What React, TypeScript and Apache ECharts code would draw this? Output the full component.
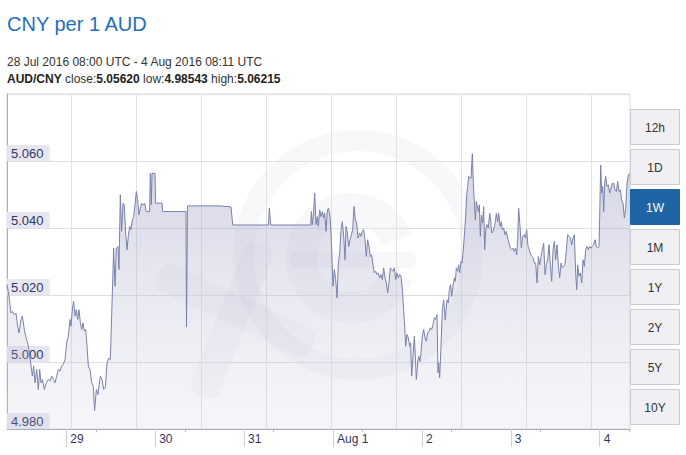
import React, { useEffect, useRef } from 'react';
import * as echarts from 'echarts';

// Time axis: hours since 28 Jul 2016 00:00 UTC
const hoursSinceJul28 = [
  8.0, 8.54, 9.08, 9.44, 9.98, 10.43, 10.88, 11.24, 11.78, 12.14, 12.68, 13.04, 13.58, 13.94, 14.39, 14.84,
  15.2, 15.56, 16.01, 16.46, 16.82, 17.18, 17.54, 18.08, 18.62, 19.16, 19.61, 20.06, 20.51, 20.96, 21.41,
  21.86, 22.31, 22.76, 23.21, 23.66, 24.11, 24.56, 25.01, 25.28, 25.73, 26.0, 26.36, 26.72, 27.08, 27.44,
  27.8, 28.16, 28.52, 28.88, 29.24, 29.6, 29.96, 30.41, 30.86, 31.3, 31.65,
  32.12, 32.57, 33.19, 33.65, 34.1, 34.54, 35.0, 35.45, 35.9, 36.8, 37.16, 37.51, 37.97, 38.23, 38.59,
  38.95, 39.31, 39.67, 40.03, 40.39, 40.75, 41.11, 41.47, 41.83, 42.19, 42.55, 42.91, 43.27, 43.63, 43.99,
  44.35, 44.71, 45.16, 45.61, 46.51, 46.69, 46.96, 47.14, 47.95, 48.13, 49.84, 50.02, 56.32, 56.46, 56.73,
  65.31, 68.47, 68.93, 78.6, 78.81, 79.19, 90.0,
  90.16, 90.43, 90.79, 91.06, 91.42, 91.78, 92.05, 92.41, 92.77, 93.13, 93.49, 93.76, 94.12, 94.48, 94.84,
  95.2, 95.47, 96.01, 96.37, 96.73, 97.09, 97.45, 97.81, 98.17, 98.53, 98.89, 99.25, 99.52, 99.88, 100.24,
  100.6, 100.96, 101.32, 101.68, 102.04, 102.4, 102.76,
  103.2, 103.56, 103.92, 104.28, 104.64, 105.0, 105.36, 105.72, 106.08, 106.44, 106.8, 107.16, 107.52,
  107.88, 108.24, 108.6, 108.96, 109.32, 109.68, 110.04, 110.4, 110.76, 111.12, 111.48, 111.84, 112.2,
  112.56, 112.92, 113.28, 113.64, 114.0, 114.36, 114.72, 115.08, 115.35, 115.62, 115.98, 116.34, 116.7,
  116.97, 117.24, 117.6, 117.96, 118.23, 118.5, 118.86, 119.13, 119.49, 119.76, 120.12, 120.48, 120.84,
  121.2, 121.56, 121.92, 122.28, 122.64, 123.0, 123.36, 123.72, 124.08, 124.35, 124.53, 124.8, 125.16,
  125.52, 125.88, 126.3,
  126.78, 127.14, 127.41, 127.77, 128.04, 128.4, 128.76, 129.03, 129.3, 129.66, 129.93, 130.2, 130.56,
  130.83, 131.1, 131.46, 131.82, 132.09, 132.36, 132.63, 132.99, 133.26, 133.62, 133.89, 134.16, 134.43,
  134.7, 134.97, 135.24, 135.51, 135.78, 136.05, 136.41, 136.68, 136.95, 137.22, 137.58, 137.94, 138.3,
  138.57, 138.84, 139.2, 139.56, 139.83, 140.1, 140.46, 140.73, 141.09, 141.45, 141.72, 142.08, 142.44,
  142.8, 143.16, 143.52, 143.88, 144.24, 144.6, 144.96, 145.32, 145.59, 145.86, 146.13, 146.49, 146.85,
  147.21, 147.57, 147.93, 148.29, 148.65, 149.01, 149.37, 149.73, 150.09, 150.36,
  150.72, 151.08, 151.44, 151.8, 152.16, 152.52, 152.88, 153.24, 153.6, 153.96, 154.32, 154.68, 155.04,
  155.4, 155.76, 156.12, 156.48, 156.84, 157.2, 157.56, 157.92, 158.28, 158.64, 159.0, 159.36, 159.72,
  160.08, 160.44, 160.8, 161.16, 161.52, 161.79, 162.06, 162.42, 162.78, 163.14, 163.5, 163.86, 164.22,
  164.58, 164.94, 165.3, 165.66, 166.02, 166.38, 166.74, 167.1, 167.46, 167.82, 168.0, 168.27, 168.54,
  168.81, 169.08, 169.35, 169.62, 169.98, 170.34, 170.7, 171.06, 171.42, 171.78, 172.14, 172.5, 172.86,
  173.22, 173.58, 173.94, 174.3, 174.66, 175.02, 175.38, 175.74, 176.18,
];

const rateValues = [
  5.0231, 5.0196, 5.0146, 5.0151, 5.0141, 5.0146, 5.0107, 5.0087, 5.0127, 5.0137, 5.0097, 5.0077, 5.0057, 5.0037, 4.9997, 4.9958,
  4.9988, 4.9938, 4.9978, 4.9918, 4.9978, 4.9938, 4.9948, 4.9918, 4.9938, 4.9948, 4.9943, 4.9958, 4.9948, 4.9938, 4.9958,
  4.9978, 4.9973, 4.9988, 4.9993, 5.0007, 5.0057, 5.0077, 5.0127, 5.0107, 5.0166, 5.0181, 5.0137, 5.0156, 5.0127, 5.0156,
  5.0117, 5.0097, 5.0117, 5.0092, 5.0097, 5.0047, 4.9988, 4.9978, 4.9938, 4.9928, 4.9855,
  4.9918, 4.9903, 4.9958, 4.9948, 4.9918, 4.9923, 4.9997, 5.0012, 5.0007, 5.034, 5.0226, 5.034, 5.0345, 5.0276, 5.0499,
  5.039, 5.0474, 5.0469, 5.0385, 5.0335, 5.0375, 5.0405, 5.0395, 5.0424, 5.0434, 5.0469, 5.0509, 5.0484, 5.0439, 5.0459,
  5.0474, 5.0469, 5.0474, 5.0449, 5.0449, 5.0563, 5.047, 5.0563, 5.0563, 5.0474, 5.0474, 5.0449, 5.0449, 5.0105, 5.0466,
  5.0466, 5.0463, 5.0409, 5.0409, 5.0459, 5.0409, 5.0409,
  5.0449, 5.041, 5.0449, 5.0504, 5.041, 5.0434, 5.0405, 5.0454, 5.0434, 5.0449, 5.043, 5.0444, 5.039, 5.0454, 5.0459,
  5.0434, 5.0385, 5.0226, 5.0276, 5.0246, 5.0191, 5.0295, 5.0325, 5.0395, 5.0419, 5.0375, 5.0305, 5.0405, 5.0385, 5.0345,
  5.0365, 5.038, 5.0395, 5.0464, 5.0424, 5.0415, 5.037,
  5.0385, 5.0375, 5.039, 5.0395, 5.0365, 5.0315, 5.0365, 5.0345, 5.0315, 5.032, 5.029, 5.0266, 5.0271,
  5.0261, 5.0266, 5.0251, 5.0261, 5.0246, 5.0281, 5.0251, 5.0236, 5.0206, 5.0236, 5.0281, 5.0276, 5.0271,
  5.0281, 5.0246, 5.0266, 5.0251, 5.0261, 5.0256, 5.0216, 5.0156, 5.0107, 5.0047, 5.0082, 5.0072, 5.0047,
  5.0057, 4.9958, 5.0017, 5.0077, 5.0017, 4.9948, 4.9997, 5.0017, 5.0002, 5.0027, 5.0077, 5.0097, 5.0072,
  5.0062, 5.0087, 5.0092, 5.0102, 5.0097, 5.0112, 5.0132, 5.0127, 5.0141, 4.9968, 4.9997, 4.9953, 5.0047,
  5.0156, 5.0186, 5.0126,
  5.0186, 5.0176, 5.0216, 5.0231, 5.0196, 5.0226, 5.0251, 5.0241, 5.0281, 5.0271, 5.029, 5.0266, 5.03,
  5.0295, 5.0325, 5.0375, 5.0434, 5.0499, 5.0524, 5.0554, 5.0549, 5.0549, 5.0622, 5.0534, 5.0479, 5.0424,
  5.0479, 5.0464, 5.0449, 5.0469, 5.0375, 5.0439, 5.0415, 5.0464, 5.0335, 5.0395, 5.041, 5.04, 5.0444,
  5.0424, 5.0385, 5.039, 5.0405, 5.0419, 5.0444, 5.0419, 5.0444, 5.0405, 5.0419, 5.0395, 5.04, 5.038,
  5.039, 5.037, 5.0355, 5.034, 5.0335, 5.034, 5.033, 5.034, 5.032, 5.0365, 5.0459, 5.0405, 5.034,
  5.0375, 5.038, 5.037, 5.0395, 5.0345, 5.0335, 5.032, 5.0315, 5.031, 5.0295,
  5.0295, 5.0236, 5.0315, 5.029, 5.0315, 5.0335, 5.0355, 5.0261, 5.029, 5.0305, 5.035, 5.029, 5.0241,
  5.0335, 5.036, 5.0305, 5.035, 5.029, 5.0251, 5.0295, 5.0281, 5.0285, 5.029, 5.0335, 5.038, 5.0375,
  5.037, 5.035, 5.037, 5.038, 5.0266, 5.0216, 5.029, 5.0256, 5.0266, 5.0236, 5.0305, 5.0285, 5.0335,
  5.0345, 5.0335, 5.0345, 5.034, 5.0345, 5.035, 5.0365, 5.0345, 5.034, 5.0345, 5.0434, 5.0588, 5.0504,
  5.0524, 5.0449, 5.0534, 5.0554, 5.0524, 5.0529, 5.0504, 5.0519, 5.0534, 5.0534, 5.0514, 5.0509, 5.0539,
  5.0509, 5.0514, 5.0484, 5.0474, 5.043, 5.0459, 5.0534, 5.0559, 5.0562,
];

const dayTickHours = [24, 48, 72, 96, 120, 144, 168];
const dayTickLabels = ['29', '30', '31', 'Aug 1', '2', '3', '4'];
const eightAmHours = [32, 56, 80, 104, 128, 152, 176];
const rangeStartHour = 8;
const rangeEndHour = 176.18;
const yMin = 4.98;
const yMax = 5.08;
const yInterval = 0.02;
const rangeButtons = ['12h', '1D', '1W', '1M', '1Y', '2Y', '5Y', '10Y'];
const activeButton = '1W';
const titleText = 'CNY per 1 AUD';
const periodText = '28 Jul 2016 08:00 UTC - 4 Aug 2016 08:11 UTC';
const pairName = 'AUD/CNY';
const closeValue = '5.05620';
const lowValue = '4.98543';
const highValue = '5.06215';

const FONT = '"Liberation Sans", Arial, Helvetica, sans-serif';

export default function App() {
  const ref = useRef<HTMLDivElement>(null);

  useEffect(() => {
    if (!ref.current) return;
    const chart = echarts.init(ref.current, undefined, { renderer: 'svg' });

    const seriesData = hoursSinceJul28.map((h, i) => [h, rateValues[i]]);
    const wm = 'rgba(80,85,140,0.04)';

    const buttons: any[] = [];
    rangeButtons.forEach((label, i) => {
      const active = label === activeButton;
      const top = 109.5 + i * 40;
      buttons.push({
        type: 'rect',
        shape: { x: 630.5, y: top, width: 49, height: 35 },
        style: { fill: active ? '#1f65a5' : '#f0f0f4', stroke: active ? '#1f65a5' : '#cbcbd2', lineWidth: 1 },
        z: 10,
      });
      buttons.push({
        type: 'text',
        x: 655,
        y: top + 18,
        style: {
          text: label,
          fill: active ? '#ffffff' : '#333333',
          fontSize: 12,
          fontFamily: FONT,
          align: 'center',
          verticalAlign: 'middle',
        },
        z: 11,
      });
    });

    const option: any = {
      animation: false,
      textStyle: { fontFamily: FONT },
      grid: [
        { left: 7, right: 56, top: 94, bottom: 26, show: true, borderColor: '#dcdcdc', borderWidth: 1 },
        { left: 6, right: 56, top: 94, bottom: 26, show: false },
      ],
      xAxis: [
        {
          type: 'value',
          gridIndex: 0,
          position: 'bottom',
          min: rangeStartHour,
          max: rangeEndHour,
          axisLine: { show: true, lineStyle: { color: '#a9acc8', width: 1 } },
          axisTick: { show: true, customValues: dayTickHours, length: 18, lineStyle: { color: '#cfcfd8' } },
          axisLabel: {
            show: true,
            customValues: dayTickHours,
            formatter: (v: number) => {
              const i = dayTickHours.indexOf(Math.round(v));
              return i >= 0 ? dayTickLabels[i] : '';
            },
            align: 'left',
            padding: [0, 0, 0, 4],
            margin: 4,
            color: '#333366',
            fontSize: 12,
            fontFamily: FONT,
          },
          splitLine: { show: false },
        },
        {
          type: 'value',
          gridIndex: 0,
          position: 'bottom',
          offset: 0,
          min: rangeStartHour,
          max: rangeEndHour,
          axisLine: { show: false },
          axisTick: { show: true, customValues: eightAmHours, length: 3, lineStyle: { color: '#b5b7c8' } },
          axisLabel: { show: false },
          splitLine: { show: false },
        },
        {
          type: 'value',
          gridIndex: 1,
          position: 'bottom',
          min: 0,
          max: 624 / 65,
          interval: 1,
          axisLine: { show: false },
          axisTick: { show: false },
          axisLabel: { show: false },
          splitLine: { show: true, showMinLine: false, showMaxLine: false, lineStyle: { color: '#e2e2e2' } },
        },
      ],
      yAxis: [
        {
          type: 'value',
          gridIndex: 0,
          min: yMin,
          max: yMax,
          interval: yInterval,
          axisLine: { show: true, lineStyle: { color: '#a9acc8', width: 1 } },
          axisTick: { show: false },
          axisLabel: {
            inside: true,
            margin: 0,
            showMaxLabel: false,
            formatter: (v: number) => v.toFixed(3),
            verticalAlign: 'bottom',
            color: '#333366',
            fontSize: 13,
            fontFamily: FONT,
            backgroundColor: '#e6e6f0',
            padding: [2, 6, 1, 4],
          },
          splitLine: { show: true, lineStyle: { color: '#e0e0e0' } },
        },
        { type: 'value', gridIndex: 1, min: 0, max: 1, show: false },
      ],
      series: [
        {
          type: 'line',
          xAxisIndex: 0,
          yAxisIndex: 0,
          data: seriesData,
          symbol: 'none',
          showSymbol: false,
          lineStyle: { color: '#7a80a9', width: 1 },
          areaStyle: {
            origin: 'start',
            color: new echarts.graphic.LinearGradient(0, 0, 0, 1, [
              { offset: 0, color: 'rgba(148,152,190,0.58)' },
              { offset: 1, color: 'rgba(200,200,222,0.24)' },
            ]),
          },
        },
      ],
      graphic: [
        // faint watermark logo
        { type: 'ring', shape: { cx: 358, cy: 255, r: 125, r0: 104 }, style: { fill: wm }, z: 0, silent: true },
        {
          type: 'sector',
          shape: { cx: 351, cy: 258, r: 65, r0: 34, startAngle: 0.35, endAngle: 5.9, clockwise: true },
          style: { fill: wm },
          z: 0,
          silent: true,
        },
        { type: 'rect', shape: { x: 290, y: 252, width: 126, height: 16, r: 6 }, style: { fill: wm }, z: 0, silent: true },
        {
          type: 'rect',
          x: 235,
          y: 310,
          rotation: -0.436,
          shape: { x: -85, y: -15, width: 170, height: 30, r: 10 },
          style: { fill: wm },
          z: 0,
          silent: true,
        },
        {
          type: 'rect',
          x: 232,
          y: 320,
          rotation: 1.19,
          shape: { x: -82, y: -15, width: 164, height: 30, r: 10 },
          style: { fill: wm },
          z: 0,
          silent: true,
        },
        // texts
        {
          type: 'text',
          x: 7,
          y: 24,
          style: { text: titleText, fill: '#1e6fc0', fontSize: 20, fontFamily: FONT, verticalAlign: 'middle' },
          z: 10,
        },
        {
          type: 'text',
          x: 7,
          y: 62,
          style: { text: periodText, fill: '#333333', fontSize: 12, fontFamily: FONT, verticalAlign: 'middle' },
          z: 10,
        },
        {
          type: 'text',
          x: 7,
          y: 79,
          style: {
            text: `{b|${pairName}} close:{b|${closeValue}} low:{b|${lowValue}} high:{b|${highValue}}`,
            fill: '#333333',
            fontSize: 12,
            fontFamily: FONT,
            verticalAlign: 'middle',
            rich: {
              b: { fontWeight: 'bold', fontSize: 12, fontFamily: FONT, fill: '#222222', color: '#222222' },
            },
          },
          z: 10,
        },
        ...buttons,
      ],
    };

    chart.setOption(option);
    return () => {
      chart.dispose();
    };
  }, []);

  return <div ref={ref} style={{ width: 686, height: 455, position: 'absolute', left: 0, top: 0 }} />;
}
